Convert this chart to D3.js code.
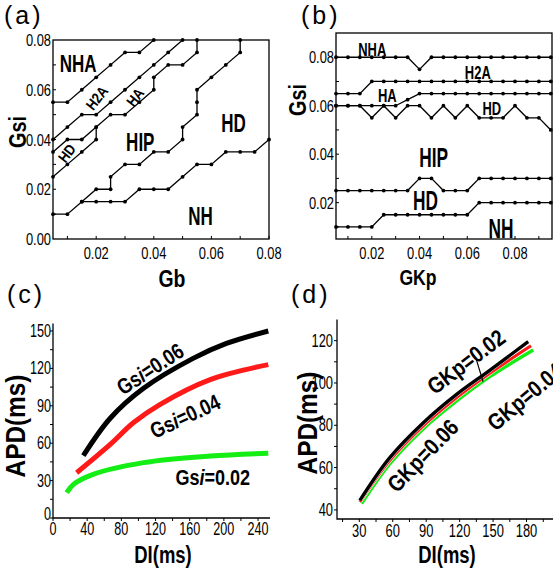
<!DOCTYPE html>
<html>
<head>
<meta charset="utf-8">
<script src="https://cdn.jsdelivr.net/npm/d3@7"></script>
<style>
  body { margin: 0; background: #fff; }
  text { font-family: "Liberation Sans", Arial, sans-serif; fill: #000; }
</style>
</head>
<body>
<svg id="fig"></svg>
<script>
// ---------- panel (a): Gsi vs Gb, boundaries as [Gb, Gsi]
const aNhaH2a = [[0.005,0.055],[0.01,0.055],[0.015,0.06],[0.02,0.065],[0.025,0.07],[0.03,0.075],[0.035,0.075],[0.04,0.08]]
const aH2aHa  = [[0.005,0.04],[0.01,0.045],[0.015,0.05],[0.02,0.05],[0.025,0.055],[0.03,0.06],[0.035,0.065],[0.04,0.07],[0.045,0.075],[0.05,0.08]]
const aHaHd   = [[0.005,0.035],[0.01,0.04],[0.015,0.04],[0.02,0.045],[0.025,0.05],[0.03,0.05],[0.035,0.055],[0.04,0.06],[0.04,0.065],[0.045,0.07],[0.05,0.07],[0.055,0.075],[0.055,0.08]]
const aHdHip  = [[0.005,0.025],[0.01,0.03],[0.015,0.035],[0.02,0.04],[0.02,0.045]]
const aHipHd  = [[0.005,0.01],[0.01,0.01],[0.015,0.015],[0.02,0.02],[0.025,0.02],[0.025,0.025],[0.03,0.03],[0.035,0.03],[0.04,0.035],[0.045,0.035],[0.05,0.04],[0.05,0.045],[0.055,0.05],[0.055,0.055],[0.055,0.06],[0.06,0.065],[0.065,0.07],[0.07,0.075],[0.07,0.08]]
const aHdNh   = [[0.015,0.015],[0.02,0.015],[0.025,0.015],[0.03,0.015],[0.035,0.02],[0.04,0.02],[0.045,0.02],[0.05,0.025],[0.055,0.03],[0.06,0.03],[0.065,0.035],[0.07,0.035],[0.075,0.035],[0.08,0.04]]
const aXTicks = [0.02, 0.04, 0.06, 0.08]
const aYTicks = [0.00, 0.02, 0.04, 0.06, 0.08]

// ---------- panel (b): Gsi vs GKp, one Gsi value per GKp grid point
const bGKp    = [0.005,0.01,0.015,0.02,0.025,0.03,0.035,0.04,0.045,0.05,0.055,0.06,0.065,0.07,0.075,0.08,0.085,0.09,0.095]
const bNhaH2a = [0.08,0.08,0.08,0.08,0.08,0.08,0.08,0.075,0.08,0.08,0.08,0.08,0.08,0.08,0.08,0.08,0.08,0.08,0.08]
const bH2aHa  = [0.065,0.065,0.065,0.07,0.07,0.07,0.07,0.07,0.07,0.07,0.07,0.07,0.07,0.07,0.07,0.07,0.07,0.07,0.07]
const bHaHd   = [0.06,0.06,0.06,0.06,0.06,0.06,0.0625,0.065,0.065,0.065,0.065,0.065,0.065,0.065,0.065,0.065,0.065,0.065,0.065]
const bHdHip  = [0.06,0.06,0.06,0.055,0.06,0.055,0.06,0.06,0.055,0.06,0.055,0.06,0.055,0.055,0.055,0.06,0.055,0.055,0.05]
const bHipHd  = [0.025,0.025,0.025,0.025,0.025,0.025,0.025,0.03,0.03,0.025,0.025,0.025,0.03,0.03,0.03,0.03,0.03,0.03,0.03]
const bHdNh   = [0.01,0.01,0.01,0.01,0.015,0.015,0.015,0.015,0.015,0.015,0.015,0.015,0.02,0.02,0.02,0.02,0.02,0.02,0.02]
const bXTicks = [0.02, 0.04, 0.06, 0.08]
const bYTicks = [0.02, 0.04, 0.06, 0.08]

// ---------- panel (c): APD restitution for three Gsi, [DI, APD]
const cGsi06 = [[35.5,50],[67,80],[106,104],[164,128],[203,140],[252,150]]
const cGsi04 = [[27.7,36.3],[67,59],[94,76.4],[125,91],[184,111],[252,123]]
const cGsi02 = [[16,20.3],[24,27],[47,35],[106,44.4],[184,49.7],[252,52]]
const cXTicks = [0, 40, 80, 120, 160, 200, 240]
const cYTicks = [0, 30, 60, 90, 120, 150]

// ---------- panel (d): APD restitution for three GKp, [DI, APD]
const dGKp02 = [[30.5,44.5],[57,64.5],[87,81],[117,94.5],[147,106],[181.5,119.5]]
const dGKp04 = [[30.5,43.8],[57,63.2],[87,79.6],[117,93],[147,104.6],[184,117.6]]
const dGKp06 = [[32,43],[57,61.6],[87,78.2],[117,91.4],[147,103],[186,115.6]]
const dXTicks = [30, 60, 90, 120, 150, 180]
const dYTicks = [40, 60, 80, 100, 120]

const svg = d3.select("#fig").attr("width", 553).attr("height", 569)

// text helper: position, rotation and a horizontal squeeze (the figure uses a condensed face)
function label(g, x, y, parts, o = {}) {
  const sx = o.sx == null ? 0.8 : o.sx
  const t = g.append("text")
      .attr("transform", `translate(${x},${y}) rotate(${o.rot || 0}) scale(${sx},1)`)
      .attr("text-anchor", o.anchor || "middle")
      .attr("dominant-baseline", o.base || "auto")
      .style("font-size", (o.size || 16) + "px")
      .style("font-weight", o.bold ? "bold" : "normal")
  if (o.ls) t.style("letter-spacing", o.ls + "px")
  if (typeof parts === "string") parts = [[parts, false]]
  parts.forEach(([s, it]) => t.append("tspan").style("font-style", it ? "italic" : "normal").text(s))
  return t
}

function panelTag(x, y, s) {
  label(svg, x, y, s, {size: 25, anchor: "start", ls: 3, sx: 1})
}

// ---------- framed phase diagrams (a) and (b)
function phaseFrame(g, x, y, xt, yt, minorX, minorY) {
  const [x0, x1] = x.range(), [y0, y1] = y.range()
  g.append("rect").attr("x", x0).attr("y", y1).attr("width", x1 - x0).attr("height", y0 - y1)
    .attr("fill", "none").attr("stroke", "#000").attr("stroke-width", 1.3)
  g.selectAll(".mx").data(minorX).join("line")
    .attr("x1", d => x(d)).attr("x2", d => x(d)).attr("y1", y0).attr("y2", y0 - 3)
    .attr("stroke", "#000")
  g.selectAll(".my").data(minorY).join("line")
    .attr("y1", d => y(d)).attr("y2", d => y(d)).attr("x1", x0).attr("x2", x0 + 3)
    .attr("stroke", "#000")
  xt.forEach(v => label(g, x(v), 259, v.toFixed(2), {size: 17, sx: 0.76}))
  yt.forEach(v => label(g, x0 - 2, y(v) + 6, v.toFixed(2), {size: 17, sx: 0.76, anchor: "end"}))
}

function boundary(g, x, y, pts) {
  g.append("path").datum(pts)
    .attr("d", d3.line().x(d => x(d[0])).y(d => y(d[1])))
    .attr("fill", "none").attr("stroke", "#000").attr("stroke-width", 1.3)
  g.append("g").selectAll("circle").data(pts).join("circle")
    .attr("cx", d => x(d[0])).attr("cy", d => y(d[1])).attr("r", 1.9).attr("fill", "#000")
}

// (a)
{
  const g = svg.append("g")
  const x = d3.scaleLinear().domain([0.005, 0.08]).range([53, 269])
  const y = d3.scaleLinear().domain([0, 0.08]).range([239, 40])
  phaseFrame(g, x, y, aXTicks, aYTicks, d3.range(1, 9).map(i => i / 100), d3.range(1, 8).map(i => i / 100))
  ;[aNhaH2a, aH2aHa, aHaHd, aHdHip, aHipHd, aHdNh].forEach(p => boundary(g, x, y, p))
  const big = {size: 25, bold: true, base: "central", sx: 0.68}
  const small = {size: 15, bold: true, base: "central", rot: -52, sx: 0.85}
  label(g, x(0.0137), y(0.0705), "NHA", {size: 23, bold: true, base: "central", sx: 0.74})
  label(g, x(0.0202), y(0.0567), "H2A", small)
  label(g, x(0.0335), y(0.057), "HA", small)
  label(g, x(0.0098), y(0.0345), "HD", small)
  label(g, x(0.0353), y(0.0385), "HIP", big)
  label(g, x(0.0677), y(0.0465), "HD", big)
  label(g, x(0.0562), y(0.009), "NH", big)
  label(g, 26, 132, "Gsi", {size: 23, bold: true, rot: -90, sx: 0.86})
  label(g, 172, 287, "Gb", {size: 24, bold: true, sx: 0.81})
  panelTag(4, 24, "(a)")
}

// (b)
{
  const g = svg.append("g")
  const x = d3.scaleLinear().domain([0.005, 0.0955]).range([336, 552])
  const y = d3.scaleLinear().domain([0.005, 0.09]).range([239, 33])
  phaseFrame(g, x, y, bXTicks, bYTicks, d3.range(1, 10).map(i => i / 100), d3.range(1, 9).map(i => i / 100))
  ;[bNhaH2a, bH2aHa, bHaHd, bHdHip, bHipHd, bHdNh]
    .forEach(vals => boundary(g, x, y, bGKp.map((k, i) => [k, vals[i]])))
  const mid = {size: 18, bold: true, base: "central", sx: 0.72}
  const big = {size: 27, bold: true, base: "central", sx: 0.64}
  label(g, x(0.0202), y(0.0835), "NHA", mid)
  label(g, x(0.0644), y(0.074), "H2A", mid)
  label(g, x(0.0265), y(0.0645), "HA", mid)
  label(g, x(0.0703), y(0.059), "HD", mid)
  label(g, x(0.0459), y(0.0388), "HIP", big)
  label(g, x(0.0425), y(0.0211), "HD", big)
  label(g, x(0.0741), y(0.0095), "NH", big)
  label(g, 306, 100, "Gsi", {size: 23, bold: true, rot: -90, sx: 0.86})
  label(g, 418, 285, "GKp", {size: 22, bold: true, sx: 0.8})
  panelTag(301, 24, "(b)")
}

// ---------- restitution curves (c) and (d)
function openAxes(g, x, y, xt, yt, minorX, minorY, lab) {
  const [x0, x1] = x.range(), [y0, y1] = y.range()
  g.append("path").attr("d", `M${x0},${y1}V${y0}H${x1}`)
    .attr("fill", "none").attr("stroke", "#000").attr("stroke-width", 1.3)
  g.selectAll(".mx").data(minorX).join("line")
    .attr("x1", d => x(d)).attr("x2", d => x(d)).attr("y1", y0).attr("y2", y0 + 3)
    .attr("stroke", "#000")
  g.selectAll(".my").data(minorY).join("line")
    .attr("y1", d => y(d)).attr("y2", d => y(d)).attr("x1", x0).attr("x2", x0 - 3)
    .attr("stroke", "#000")
  xt.forEach(v => label(g, x(v), lab.xBase, String(v), {size: lab.size, sx: lab.sx}))
  yt.forEach(v => label(g, lab.yRight, y(v) + 6 - (v === 0 ? 4 : 0), String(v), {size: lab.size, sx: lab.sx, anchor: "end"}))
}

function curve(g, x, y, pts, color, w) {
  g.append("path").datum(pts)
    .attr("d", d3.line().x(d => x(d[0])).y(d => y(d[1])).curve(d3.curveCatmullRom.alpha(0.5)))
    .attr("fill", "none").attr("stroke", color).attr("stroke-width", w).attr("stroke-linecap", "butt")
}

const RED = "#ff1a1a", GREEN = "#14ee14"

// (c)
{
  const g = svg.append("g")
  const x = d3.scaleLinear().domain([0, 254]).range([53, 270])
  const y = d3.scaleLinear().domain([0, 156]).range([518, 323.5])
  openAxes(g, x, y, cXTicks, cYTicks, d3.range(0, 260, 20), d3.range(0, 160, 15),
           {xBase: 535, yRight: 51, size: 18, sx: 0.7})
  curve(g, x, y, cGsi02, GREEN, 5)
  curve(g, x, y, cGsi04, RED, 5)
  curve(g, x, y, cGsi06, "#000", 5)
  const o = {size: 22, bold: true, base: "central", sx: 0.82}
  label(g, x(113.6), y(119.5), [["Gs", false], ["i", true], ["=0.06", false]], {...o, rot: -33})
  label(g, x(154.6), y(81.5), [["Gs", false], ["i", true], ["=0.04", false]], {...o, rot: -25})
  label(g, x(187), y(33), [["Gs", false], ["i", true], ["=0.02", false]], o)
  label(g, 25, 426, "APD(ms)", {size: 28, bold: true, rot: -90, sx: 0.87})
  label(g, 163, 563, "DI(ms)", {size: 24, bold: true, sx: 0.77})
  panelTag(7, 303, "(c)")
}

// (d)
{
  const g = svg.append("g")
  const x = d3.scaleLinear().domain([10, 205]).range([337, 554.4])
  const y = d3.scaleLinear().domain([35.7, 130]).range([519, 319.5])
  openAxes(g, x, y, dXTicks, dYTicks, d3.range(15, 205, 15), d3.range(40, 130, 10),
           {xBase: 537, yRight: 333, size: 19, sx: 0.68})
  curve(g, x, y, dGKp06, GREEN, 3.6)
  curve(g, x, y, dGKp04, "#fff", 4.2)
  curve(g, x, y, dGKp04, RED, 3.2)
  curve(g, x, y, dGKp02, "#fff", 4.2)
  curve(g, x, y, dGKp02, "#000", 3.4)
  const o = {size: 23, bold: true, base: "central", sx: 0.85}
  label(g, x(126), y(109.8), "GKp=0.02", {...o, rot: -37})
  label(g, x(87.2), y(65.5), "GKp=0.06", {...o, rot: -46})
  label(g, x(179), y(93.3), "GKp=0.04", {...o, rot: -40})
  g.append("line")
    .attr("x1", x(135)).attr("y1", y(111)).attr("x2", x(141)).attr("y2", y(100.6))
    .attr("stroke", "#000").attr("stroke-width", 1.2)
  label(g, 317, 423, "APD(ms)", {size: 28, bold: true, rot: -90, sx: 0.87})
  label(g, 447, 563, "DI(ms)", {size: 24, bold: true, sx: 0.77})
  panelTag(291, 303, "(d)")
}
</script>
</body>
</html>
